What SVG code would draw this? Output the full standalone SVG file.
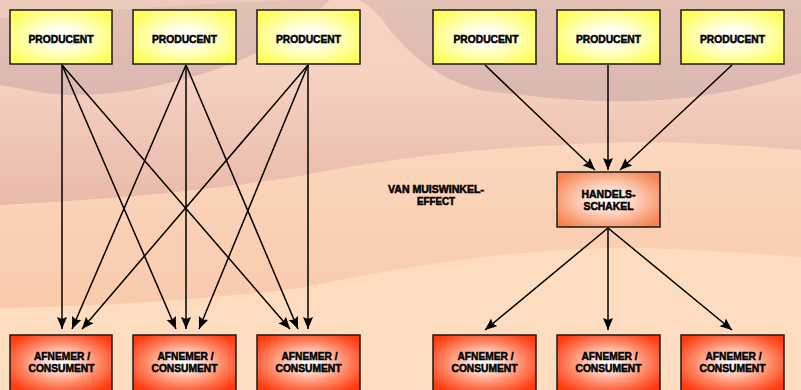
<svg xmlns="http://www.w3.org/2000/svg" width="801" height="390" viewBox="0 0 801 390">
<defs>
<style>
.box{stroke:#1a1a1a;stroke-width:1.5}
.prod{fill:url(#gProd)}
.cons{fill:url(#gCons)}
.hand{fill:url(#gHand)}
.t{font-family:"Liberation Sans",Arial,sans-serif;font-weight:bold;font-size:11.5px;fill:#000;stroke:#000;stroke-width:0.55;text-anchor:middle}
.t2{font-size:10.5px}
.c{fill:none;stroke:#000;stroke-width:1.5;marker-end:url(#ah)}
</style>
<radialGradient id="gProd" cx="0.5" cy="0.5" r="0.62">
<stop offset="0" stop-color="#ffffff"/>
<stop offset="0.25" stop-color="#fffff0"/>
<stop offset="1" stop-color="#ffff55"/>
</radialGradient>
<radialGradient id="gCons" cx="0.5" cy="0.5" r="0.62">
<stop offset="0" stop-color="#ffffff"/>
<stop offset="0.2" stop-color="#ffe6de"/>
<stop offset="0.6" stop-color="#ff8a68"/>
<stop offset="1" stop-color="#ff3a10"/>
</radialGradient>
<radialGradient id="gHand" cx="0.5" cy="0.5" r="0.62">
<stop offset="0" stop-color="#ffffff"/>
<stop offset="0.2" stop-color="#fff0e8"/>
<stop offset="1" stop-color="#f7824e"/>
</radialGradient>
<linearGradient id="gB2" x1="0" y1="70" x2="0" y2="210" gradientUnits="userSpaceOnUse">
<stop offset="0" stop-color="#f6d2c0"/>
<stop offset="1" stop-color="#e9b8a9"/>
</linearGradient>
<linearGradient id="gB3" x1="0" y1="140" x2="0" y2="310" gradientUnits="userSpaceOnUse">
<stop offset="0" stop-color="#fbd7bd"/>
<stop offset="1" stop-color="#f9caac"/>
</linearGradient>
<linearGradient id="gB1" x1="0" y1="0" x2="0" y2="110" gradientUnits="userSpaceOnUse">
<stop offset="0" stop-color="#e3c1b5"/>
<stop offset="1" stop-color="#d9b7b0"/>
</linearGradient>
<marker id="ah" markerUnits="userSpaceOnUse" markerWidth="13" markerHeight="11" refX="12" refY="5" orient="auto" viewBox="0 0 13 11">
<path d="M0,0 L12,5 L0,10 L2,5 Z" fill="#000"/>
</marker>
</defs>
<g id="background">
<rect x="0" y="0" width="801" height="390" fill="#fddcbf"/>
<path d="M0,0 H801 V257 C700,250 640,245 560,250 C450,258 380,272 300,288 C200,300 100,306 0,308 Z" fill="url(#gB3)"/>
<path d="M0,0 H801 V150 C700,142 640,140 560,145 C460,150 380,160 300,176 C200,192 100,200 0,205 Z" fill="url(#gB2)"/>
<path d="M0,18 C80,12 180,4 290,0 L330,0 C300,30 260,55 220,68 C170,85 120,96 70,95 C40,94 20,88 0,85 Z" fill="url(#gB1)"/>
<path d="M0,0 L290,0 C180,4 80,12 0,18 Z" fill="#eccabb"/>
<path d="M360,0 H801 V73 C760,85 720,96 660,100 C600,104 540,98 480,90 C440,80 410,55 390,30 C380,15 370,6 360,0 Z" fill="url(#gB1)"/>
</g>
<g id="connectors">
<line class="c" x1="62" y1="65" x2="62" y2="329"/>
<line class="c" x1="62" y1="65" x2="176" y2="329"/>
<line class="c" x1="62" y1="65" x2="290" y2="329"/>
<line class="c" x1="186" y1="65" x2="72" y2="329"/>
<line class="c" x1="186" y1="65" x2="186" y2="329"/>
<line class="c" x1="186" y1="65" x2="298" y2="329"/>
<line class="c" x1="308" y1="65" x2="82" y2="329"/>
<line class="c" x1="308" y1="65" x2="199" y2="329"/>
<line class="c" x1="308" y1="65" x2="308" y2="329"/>
<line class="c" x1="485" y1="65" x2="595" y2="170"/>
<line class="c" x1="608" y1="65" x2="608" y2="170"/>
<line class="c" x1="732" y1="65" x2="620" y2="170"/>
<line class="c" x1="608" y1="228" x2="485" y2="330"/>
<line class="c" x1="608" y1="228" x2="608" y2="330"/>
<line class="c" x1="608" y1="228" x2="732" y2="330"/>
</g>
<g id="p1"><rect class="box prod" x="10" y="10" width="102" height="54"/><text class="t" x="61" y="43" textLength="65" lengthAdjust="spacingAndGlyphs">PRODUCENT</text></g>
<g id="p2"><rect class="box prod" x="133" y="10" width="103" height="54"/><text class="t" x="184.5" y="43" textLength="65" lengthAdjust="spacingAndGlyphs">PRODUCENT</text></g>
<g id="p3"><rect class="box prod" x="257" y="10" width="103" height="54"/><text class="t" x="308.5" y="43" textLength="65" lengthAdjust="spacingAndGlyphs">PRODUCENT</text></g>
<g id="p4"><rect class="box prod" x="433" y="10" width="103" height="54"/><text class="t" x="486" y="43" textLength="65" lengthAdjust="spacingAndGlyphs">PRODUCENT</text></g>
<g id="p5"><rect class="box prod" x="557" y="10" width="103" height="54"/><text class="t" x="608.5" y="43" textLength="65" lengthAdjust="spacingAndGlyphs">PRODUCENT</text></g>
<g id="p6"><rect class="box prod" x="681" y="10" width="103" height="54"/><text class="t" x="732.5" y="43" textLength="65" lengthAdjust="spacingAndGlyphs">PRODUCENT</text></g>
<g id="handelsschakel"><rect class="box hand" x="557" y="172" width="103" height="55"/><text class="t" x="608.5" y="197.5" textLength="54" lengthAdjust="spacingAndGlyphs">HANDELS-</text><text class="t" x="608.5" y="209.5" textLength="50" lengthAdjust="spacingAndGlyphs">SCHAKEL</text></g>
<g id="c1"><rect class="box cons" x="10" y="335" width="102" height="56"/><text class="t" x="62" y="360" textLength="56" lengthAdjust="spacingAndGlyphs">AFNEMER /</text><text class="t" x="61.5" y="372" textLength="66" lengthAdjust="spacingAndGlyphs">CONSUMENT</text></g>
<g id="c2"><rect class="box cons" x="133" y="335" width="103" height="56"/><text class="t" x="185.5" y="360" textLength="56" lengthAdjust="spacingAndGlyphs">AFNEMER /</text><text class="t" x="184.5" y="372" textLength="66" lengthAdjust="spacingAndGlyphs">CONSUMENT</text></g>
<g id="c3"><rect class="box cons" x="257" y="335" width="103" height="56"/><text class="t" x="309.5" y="360" textLength="56" lengthAdjust="spacingAndGlyphs">AFNEMER /</text><text class="t" x="308.5" y="372" textLength="66" lengthAdjust="spacingAndGlyphs">CONSUMENT</text></g>
<g id="c4"><rect class="box cons" x="433" y="335" width="103" height="56"/><text class="t" x="485.5" y="360" textLength="56" lengthAdjust="spacingAndGlyphs">AFNEMER /</text><text class="t" x="484.5" y="372" textLength="66" lengthAdjust="spacingAndGlyphs">CONSUMENT</text></g>
<g id="c5"><rect class="box cons" x="557" y="335" width="103" height="56"/><text class="t" x="609.5" y="360" textLength="56" lengthAdjust="spacingAndGlyphs">AFNEMER /</text><text class="t" x="608.5" y="372" textLength="66" lengthAdjust="spacingAndGlyphs">CONSUMENT</text></g>
<g id="c6"><rect class="box cons" x="681" y="335" width="103" height="56"/><text class="t" x="733.5" y="360" textLength="56" lengthAdjust="spacingAndGlyphs">AFNEMER /</text><text class="t" x="732.5" y="372" textLength="66" lengthAdjust="spacingAndGlyphs">CONSUMENT</text></g>
<g id="label"><text class="t t2" x="436" y="193" textLength="96" lengthAdjust="spacingAndGlyphs">VAN MUISWINKEL-</text><text class="t t2" x="436" y="205" textLength="38" lengthAdjust="spacingAndGlyphs">EFFECT</text></g>
</svg>
